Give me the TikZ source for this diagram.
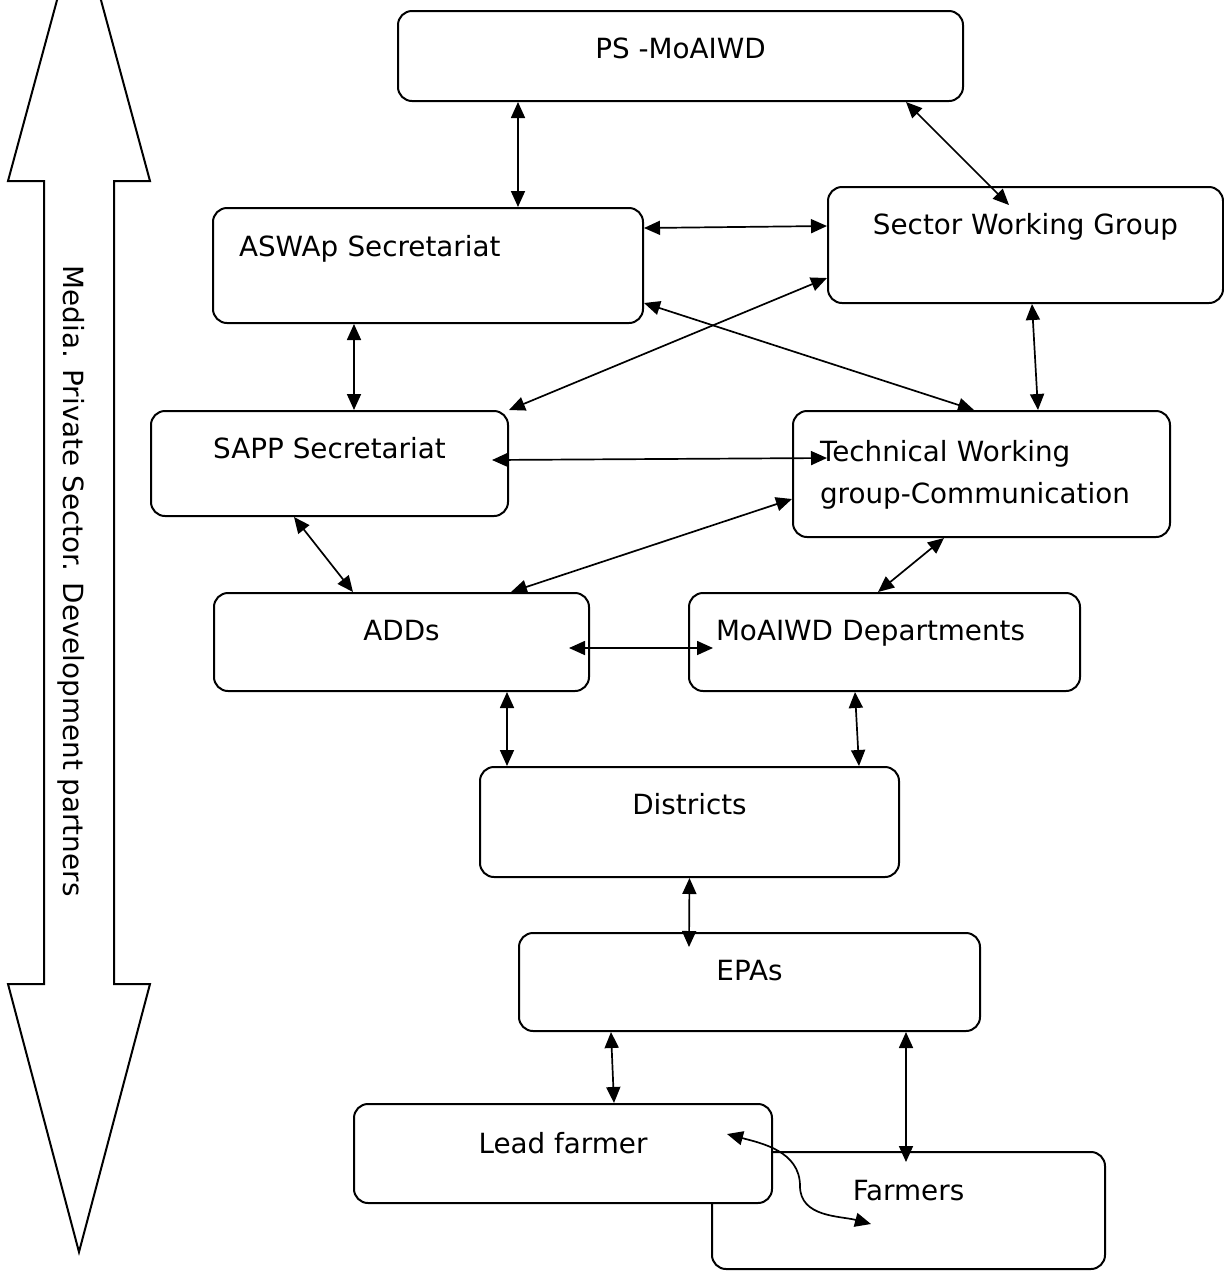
\documentclass[tikz,border=0pt]{standalone}
\usepackage{fontspec}
\setmainfont{DejaVu Sans}
\usetikzlibrary{arrows.meta}

\begin{document}
\begin{tikzpicture}[
                x=0.5pt, y=-0.5pt,
                unit/.style={draw=black, line width=1pt, rectangle, rounded corners=7pt, fill=white, inner sep=0pt, anchor=north west, font=\fontsize{13.9}{16.5}\selectfont},
                leftunit/.style={unit, align=left, inner xsep=13.5pt},
                link/.style={line width=0.85pt, {Triangle[length=8pt,width=7pt]}-{Triangle[length=8pt,width=7pt]}},
                sidelabel/.style={rotate=-90, font=\fontsize{13.9}{16.5}\selectfont}
            ]
            \useasboundingbox (0,0) rectangle (1224,1271);
            \clip (0,0) rectangle (1224,1271);

            % breiter Doppelpfeil links
            \draw[line width=1pt] (79,-81) -- (150,181) -- (114,181) -- (114,984) -- (150,984) -- (79,1252)
                -- (8,984) -- (44,984) -- (44,181) -- (8,181) -- cycle;
            \node[sidelabel] (partners) at (71,581) {Media. Private Sector. Development partners};

            % Kaesten
            \node[unit, minimum width=282.5pt, text height=23.5pt, text depth=21.5pt] (ps) at (397,10) {PS -MoAIWD};
            \node[leftunit, inner xsep=13pt, text width=189pt, text height=24pt, text depth=33.5pt] (aswap) at (212,207) {ASWAp Secretariat};
            \node[unit, minimum width=197.5pt, text height=23.5pt, text depth=34.5pt] (swg) at (827,186) {Sector Working Group};
            \node[unit, minimum width=178.5pt, text height=23.5pt, text depth=29pt] (sapp) at (150,410) {SAPP Secretariat};
            \node[leftunit, text width=161.5pt, text height=25pt, text depth=38pt, font=\fontsize{13.9}{21}\selectfont] (twg) at (792,410) {Technical Working\\group-Communication};
            \node[unit, minimum width=187.5pt, text height=23.5pt, text depth=25.5pt] (adds) at (213,592) {ADDs};
            \node[leftunit, text width=168.5pt, text height=23.5pt, text depth=25.5pt] (depts) at (688,592) {MoAIWD Departments};
            \node[unit, minimum width=209.5pt, text height=23.5pt, text depth=31.5pt] (districts) at (479,766) {Districts};
            \node[unit, minimum width=230.5pt, text height=23.5pt, text depth=25.5pt] (epas) at (518,932) {EPAs};
            \node[unit, minimum width=196.5pt, text height=24pt, text depth=34.5pt] (farmers) at (711,1151) {Farmers};
            \node[unit, minimum width=209pt, text height=24.5pt, text depth=25pt] (lead) at (353,1103) {Lead farmer};

            % Pfeile
            \draw[link] ([xshift=-81.25pt]ps.south) -- ([xshift=45pt]aswap.north);
            \draw[link] ([xshift=112.75pt]ps.south) -- ([xshift=-8.25pt, yshift=-9.5pt]swg.north);
            \draw[link] ([yshift=18.75pt]aswap.east) -- ([yshift=9.5pt]swg.west);
            \draw[link] ([yshift=-18.75pt]aswap.east) -- ([xshift=-3.75pt]twg.north);
            \draw[link] ([yshift=-16.5pt]swg.west) -- (sapp.north east);
            \draw[link] ([xshift=3.25pt]swg.south) -- ([xshift=28.25pt]twg.north);
            \draw[link] ([xshift=-37pt]aswap.south) -- ([xshift=12.25pt]sapp.north);
            \draw[link] ([xshift=-8.5pt, yshift=1.75pt]sapp.east) -- ([xshift=17.5pt, yshift=8pt]twg.west);
            \draw[link] ([xshift=-17.75pt]sapp.south) -- ([xshift=-24.25pt]adds.north);
            \draw[link] ([yshift=-12.5pt]twg.west) -- ([xshift=54.75pt]adds.north);
            \draw[link] ([xshift=-18.75pt]twg.south) -- ([xshift=-3.25pt]depts.north);
            \draw[link] ([xshift=-10.5pt, yshift=-3pt]adds.east) -- ([xshift=12.5pt, yshift=-3pt]depts.west);
            \draw[link] ([xshift=52.75pt]adds.south) -- ([xshift=-91.25pt]districts.north);
            \draw[link] ([xshift=-14.75pt]depts.south) -- ([xshift=84.75pt]districts.north);
            \draw[link] (districts.south) -- ([xshift=-30.25pt, yshift=-7.5pt]epas.north);
            \draw[link] ([xshift=-69.25pt]epas.south) -- ([xshift=25.5pt]lead.north);
            \draw[link] ([xshift=78.25pt]epas.south) -- ([xshift=-1.25pt, yshift=-5.5pt]farmers.north);
            \draw[link] ([xshift=-23pt, yshift=9.75pt]lead.east) to[out=-15, in=90] ([xshift=13.5pt, yshift=9pt]lead.south east)
                to[out=-90, in=165] ([xshift=-18.75pt, yshift=-6.75pt]farmers.center);

        \end{tikzpicture}
\end{document}
